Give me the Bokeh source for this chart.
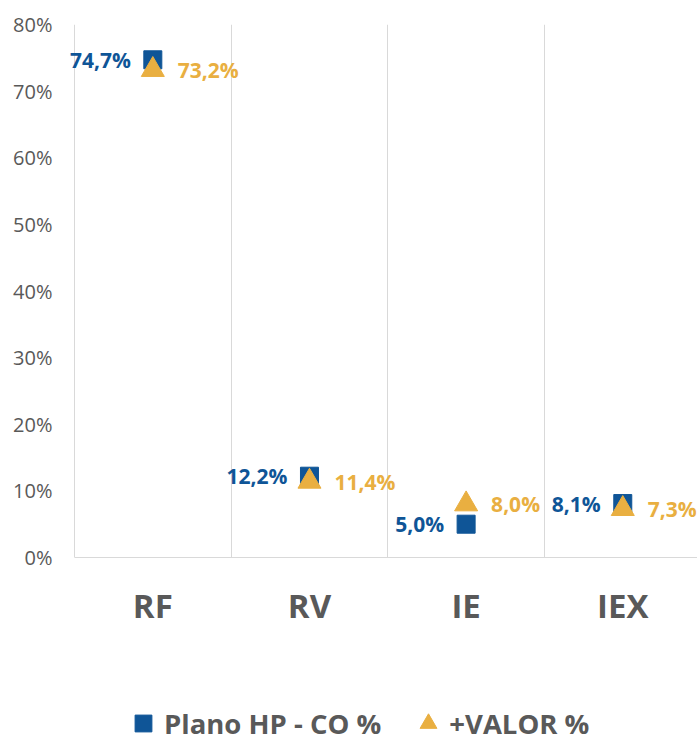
from bokeh.plotting import figure
from bokeh.layouts import column
from bokeh.models import ColumnDataSource, FixedTicker, PrintfTickFormatter, Legend, LegendItem, Range1d
from bokeh.core.properties import value
from bokeh.embed import file_html
from bokeh.resources import INLINE

categories = ["RF", "RV", "IE", "IEX"]
plano = [74.7, 12.2, 5.0, 8.1]
valor = [73.2, 11.4, 8.0, 7.3]
y_ticks = [0, 10, 20, 30, 40, 50, 60, 70, 80]
series_names = ["Plano HP - CO %", "+VALOR %"]

BLUE = "#0F5597"
ORANGE = "#E9AF41"
GRAY = "#595959"
GRID = "#D9D9D9"
FONT = "Open Sans"

def fmt(v):
    return f"{v:.1f}".replace(".", ",") + "%"

xs = [i + 0.5 for i in range(len(categories))]
src = ColumnDataSource(dict(
    x=xs, plano=plano, valor=valor,
    plano_lbl=[fmt(v) for v in plano],
    valor_lbl=[fmt(v) for v in valor],
))

p = figure(width=697, height=684, output_backend="svg", toolbar_location=None,
           x_range=Range1d(-0.051, 3.977), y_range=Range1d(0, 80),
           min_border_left=66, min_border_right=0, min_border_top=24, min_border_bottom=127)
p.outline_line_color = None
p.background_fill_color = "white"
p.border_fill_color = "white"

# grids
p.ygrid.grid_line_color = None
p.xgrid.ticker = FixedTicker(ticks=list(range(len(categories) + 1)))
p.xgrid.grid_line_color = GRID
p.xgrid.grid_line_width = 1

# y axis
p.yaxis.ticker = FixedTicker(ticks=y_ticks)
p.yaxis.formatter = PrintfTickFormatter(format="%d%%")
p.yaxis.axis_line_color = None
p.yaxis.major_tick_line_color = None
p.yaxis.major_tick_out = 0
p.yaxis.minor_tick_line_color = None
p.yaxis.minor_tick_out = 0
p.yaxis.major_label_text_font = FONT
p.yaxis.major_label_text_font_size = "20px"
p.yaxis.major_label_text_color = GRAY
p.yaxis.major_label_standoff = 14

# x axis
p.xaxis.ticker = FixedTicker(ticks=xs)
p.xaxis.major_label_overrides = {x: c for x, c in zip(xs, categories)}
p.xaxis.axis_line_color = GRID
p.xaxis.axis_line_width = 1
p.xaxis.bounds = (0, 4)
p.xaxis.major_tick_line_color = None
p.xaxis.major_tick_out = 0
p.xaxis.minor_tick_line_color = None
p.xaxis.minor_tick_out = 0
p.xaxis.major_label_text_font = FONT
p.xaxis.major_label_text_font_size = "33px"
p.xaxis.major_label_text_font_style = "bold"
p.xaxis.major_label_text_color = GRAY
p.xaxis.major_label_standoff = 25

p.scatter("x", "plano", source=src, marker="square", size=18,
          fill_color=BLUE, line_color=BLUE)
p.scatter("x", "valor", source=src, marker="triangle", size=23,
          fill_color=ORANGE, line_color=ORANGE)

p.text("x", "plano", text="plano_lbl", source=src, x_offset=-22,
       text_align="right", text_baseline="middle",
       text_font=value(FONT), text_font_style="bold", text_font_size="21px",
       text_color=BLUE)
p.text("x", "valor", text="valor_lbl", source=src, x_offset=25,
       text_align="left", text_baseline="middle",
       text_font=value(FONT), text_font_style="bold", text_font_size="21px",
       text_color=ORANGE)

# legend strip below the chart (its markers lie outside this strip's ranges)
lg = figure(width=697, height=55, output_backend="svg", toolbar_location=None,
            x_range=Range1d(0, 1), y_range=Range1d(-1, 0),
            x_axis_type=None, y_axis_type=None,
            min_border=0)
lg.outline_line_color = None
lg.grid.visible = False
l1 = lg.scatter("x", "plano", source=src, marker="square", fill_color=BLUE, line_color=BLUE)
l2 = lg.scatter("x", "valor", source=src, marker="triangle", fill_color=ORANGE, line_color=ORANGE)

legend = Legend(items=[LegendItem(label=series_names[0], renderers=[l1], index=0),
                       LegendItem(label=series_names[1], renderers=[l2], index=0)],
                orientation="horizontal", location=(56, -5),
                glyph_width=42, glyph_height=42, label_standoff=0, spacing=26,
                padding=0, margin=0, border_line_color=None,
                background_fill_alpha=0,
                label_text_font=FONT, label_text_font_style="bold",
                label_text_font_size="27.5px", label_text_color=GRAY)
lg.add_layout(legend, "center")

layout = column(p, lg, spacing=0)
open("out.html", "w").write(file_html(layout, INLINE))
